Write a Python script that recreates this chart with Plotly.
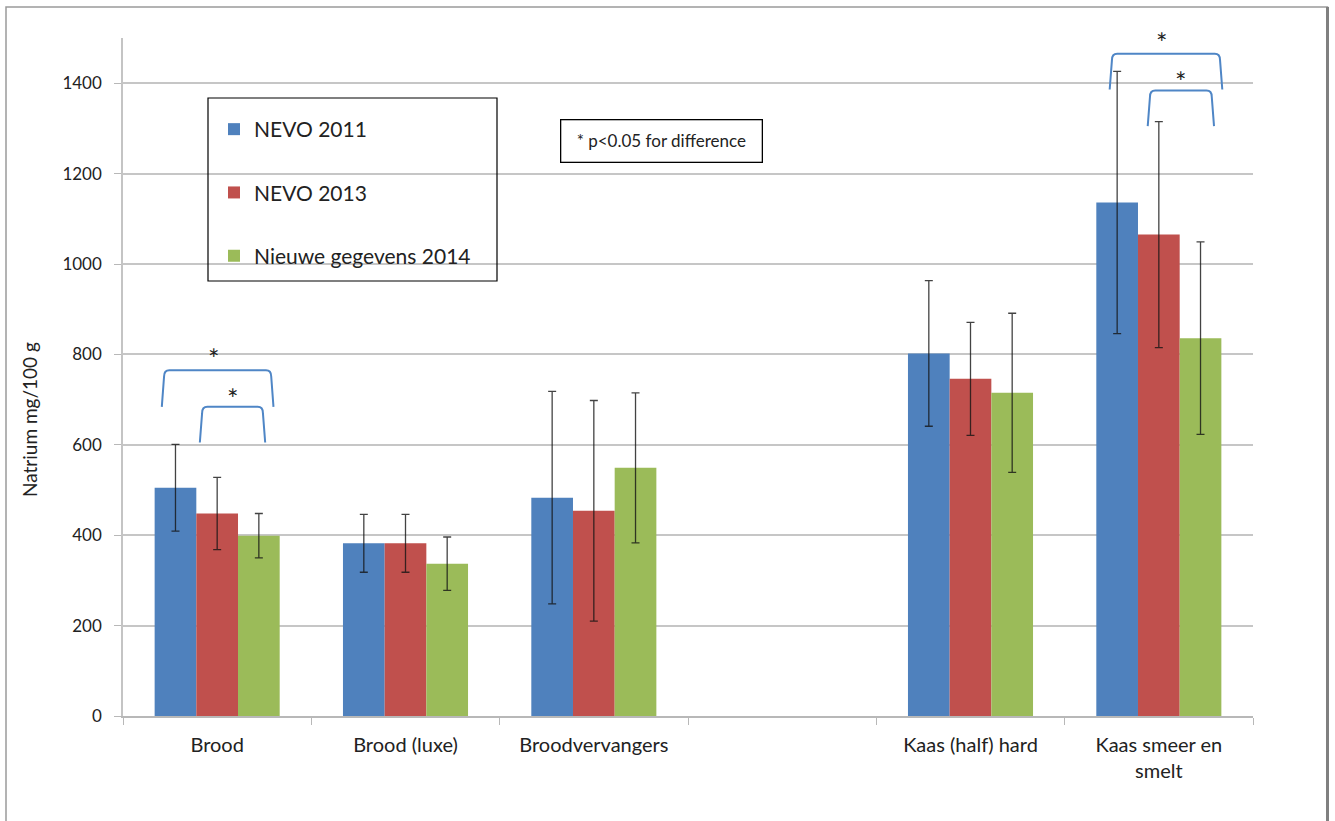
import plotly.graph_objects as go

# Sodium content per product group (mg/100 g), mean and standard deviation
categories = ["Brood", "Brood (luxe)", "Broodvervangers", " ",
              "Kaas (half) hard", "Kaas smeer en<br>smelt"]
series_names = ["NEVO 2011", "NEVO 2013", "Nieuwe gegevens 2014"]
nevo_2011 = [505, 382, 483, None, 802, 1136]
nevo_2013 = [448, 382, 454, None, 746, 1065]
nieuw_2014 = [399, 337, 549, None, 715, 836]
sd_2011 = [96, 64, 235, None, 161, 290]
sd_2013 = [80, 64, 244, None, 125, 250]
sd_2014 = [49, 59, 166, None, 176, 213]
colors = ["#4F81BD", "#C0504D", "#9BBB59"]

# Significance brackets: category index, left / right end (offset in category
# units), top level and leg end (mg/100 g), star position
brackets = [
    (0, -0.282, 0.287, 765, 684, -0.018, 800),
    (0, -0.080, 0.243, 684, 605, 0.079, 712),
    (5, -0.249, 0.325, 1465, 1386, 0.015, 1500),
    (5, -0.047, 0.281, 1384, 1305, 0.113, 1412),
]

FONT = "Lato"
TXT = "#222222"
W, H = 1335, 821
L, R, T, B = 123, 82, 38, 105
PW, PH = W - L - R, H - T - B


def px_x(px):
    return (px - L) / PW


def px_y(py):
    return (H - B - py) / PH


fig = go.Figure()
for name, vals, sds, col in zip(series_names, [nevo_2011, nevo_2013, nieuw_2014],
                                [sd_2011, sd_2013, sd_2014], colors):
    fig.add_trace(go.Bar(
        x=categories, y=vals, name=name, legendgroup=name,
        marker=dict(color=col, line=dict(width=0)),
        error_y=dict(type="data", array=sds, visible=True,
                     color="rgba(20,20,20,0.8)", thickness=1.3, width=4),
    ))

# invisible numeric axis over the category axis, used for the brackets
fig.add_trace(go.Scatter(x=[-0.5, 5.5], y=[0, 0], xaxis="x2", mode="markers",
                         marker=dict(opacity=0), showlegend=False,
                         hoverinfo="skip"))

shapes = []
annotations = []
for ci, left, right, top, leg, sx, sy in brackets:
    x0, x1 = ci + left, ci + right
    rx, ry = 0.028, 14
    f = 0.012
    path = (f"M {x0 - f},{leg} L {x0},{top - ry} Q {x0},{top} {x0 + rx},{top} "
            f"L {x1 - rx},{top} Q {x1},{top} {x1},{top - ry} L {x1 + f},{leg}")
    shapes.append(dict(type="path", path=path, xref="x2", yref="y",
                       line=dict(color="#4F86C6", width=2)))
    annotations.append(dict(x=ci + sx, y=sy, xref="x2", yref="y", text="*",
                            showarrow=False, font=dict(family=FONT, size=27,
                                                       color=TXT),
                            xanchor="center", yanchor="middle", yshift=-4))

# outer frame of the chart area
shapes.append(dict(type="rect", xref="paper", yref="paper",
                   x0=px_x(6), x1=px_x(1327.5), y0=px_y(840), y1=px_y(7),
                   line=dict(color="#9a9a9a", width=1.5), layer="below"))
shapes.append(dict(type="line", xref="paper", yref="paper",
                   x0=px_x(1327.5), x1=px_x(1327.5), y0=px_y(840), y1=px_y(7),
                   line=dict(color="#808080", width=3)))
# legend box
shapes.append(dict(type="rect", xref="paper", yref="paper",
                   x0=px_x(208), x1=px_x(497), y0=px_y(281), y1=px_y(98),
                   line=dict(color="#000000", width=1.2)))

annotations.append(dict(x=px_x(661), y=px_y(140.5), xref="paper", yref="paper",
                        xanchor="center", yanchor="middle",
                        text="* p<0.05 for difference", showarrow=False,
                        font=dict(family=FONT, size=17, color=TXT),
                        bordercolor="#000000", borderwidth=1.3, borderpad=0,
                        width=200, height=41, align="center"))
annotations.append(dict(x=px_x(29), y=px_y(420), xref="paper", yref="paper",
                        xanchor="center", yanchor="middle",
                        text="Natrium mg/100 g", textangle=-90, showarrow=False,
                        font=dict(family=FONT, size=19, color=TXT)))

fig.update_layout(
    width=W, height=H,
    margin=dict(l=L, r=R, t=T, b=B),
    paper_bgcolor="white", plot_bgcolor="white",
    barmode="group", bargap=0.336, bargroupgap=0,
    font=dict(family=FONT, color=TXT),
    showlegend=True,
    legend=dict(x=px_x(214), y=px_y(109), xanchor="left", yanchor="top",
                bgcolor="rgba(0,0,0,0)", borderwidth=0,
                font=dict(family=FONT, size=21, color=TXT),
                tracegroupgap=33),
    xaxis=dict(type="category", categoryorder="array", categoryarray=categories,
               range=[-0.5, 5.5], showline=True, linecolor="#b8b8b8",
               linewidth=1.5, ticks="outside", tickson="boundaries",
               ticklen=7, tickcolor="#b8b8b8", tickwidth=1.2, showgrid=False,
               tickfont=dict(family=FONT, size=20, color=TXT),
               ticklabelstandoff=10),
    xaxis2=dict(overlaying="x", range=[-0.5, 5.5], visible=False),
    yaxis=dict(range=[0, 1500], tick0=0, dtick=200, showline=True,
               linecolor="#c4c4c4", linewidth=1.5, ticks="outside", ticklen=7,
               tickcolor="#b8b8b8", tickwidth=1.2, showgrid=True,
               gridcolor="#c6c6c6", gridwidth=1.5, zeroline=False,
               tickfont=dict(family=FONT, size=17, color=TXT),
               ticklabelstandoff=9),
    shapes=shapes, annotations=annotations,
)

fig.write_html("out.html")
